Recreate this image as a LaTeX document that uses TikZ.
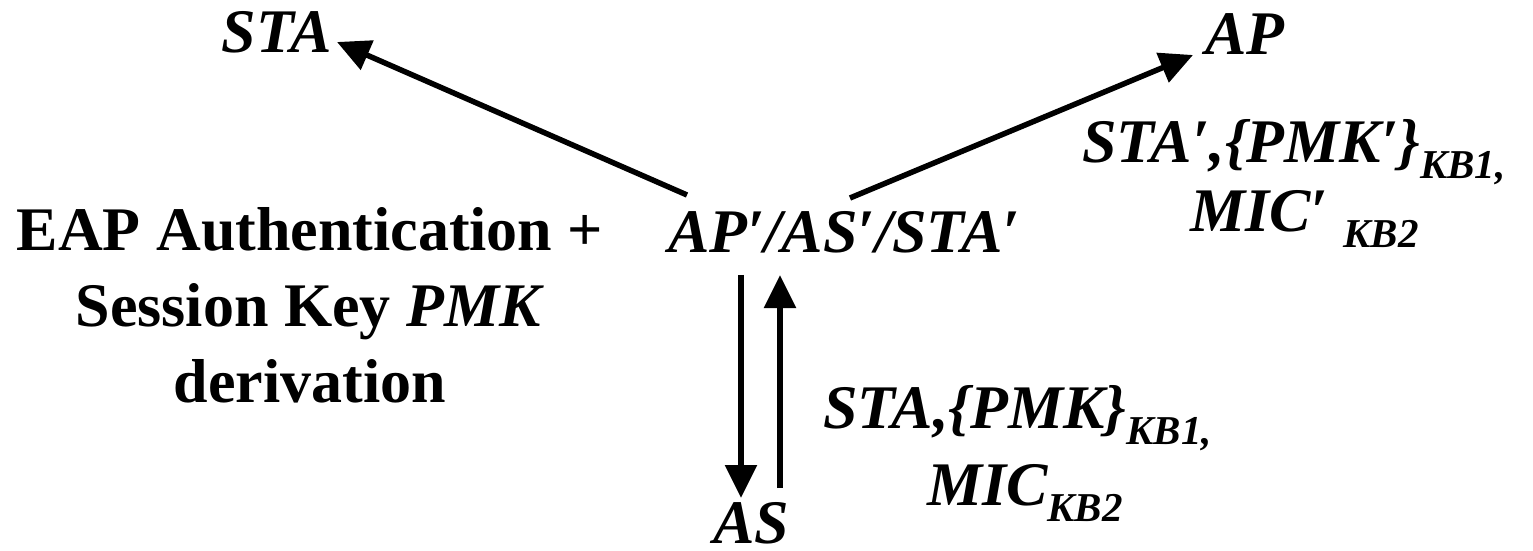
\documentclass[tikz,border=0pt]{standalone}
\usepackage{fontspec}
\setmainfont{Liberation Serif}
\usetikzlibrary{arrows.meta,calc}
% lowered, smaller subscript used in the message labels
\newcommand{\keysub}[1]{\raisebox{-16bp}{\fontsize{41bp}{41bp}\selectfont #1}}
\begin{document}
\begin{tikzpicture}[x=1bp,y=-1bp,
  every node/.style={inner sep=0pt,outer sep=0pt},
  entity/.style={font=\fontsize{62bp}{70bp}\selectfont\bfseries\itshape},
  note/.style={font=\fontsize{62bp}{76bp}\selectfont\bfseries,align=center},
  msg/.style={font=\fontsize{62bp}{70bp}\selectfont\bfseries\itshape},
  flow/.style={line width=5.5bp,-{Triangle[length=33bp,width=31bp]}}]
\useasboundingbox (0,0) rectangle (1533,551);

% parties
\node[entity,anchor=base east] (sta) at (332,53) {STA};
\node[entity,anchor=base west] (ap) at (1205,55) {AP};
\node[entity,anchor=base west] (hub) at (668,253) {AP′/AS′/STA′};
\node[entity,anchor=base west] (as) at (713,543) {AS};

% explanatory note on the left (base = baseline of its last line)
\node[note,anchor=base] (eap) at (310,402)
  {EAP Authentication +\\Session Key \textit{PMK}\\derivation};

% message contents
\node[msg,anchor=base west] (m1a) at (823,428) {STA,\{PMK\}\keysub{KB1,}};
\node[msg,anchor=base west] (m1b) at (927,505) {MIC\keysub{KB2}};
\node[msg,anchor=base west] (m2a) at (1082,163) {STA′,\{PMK′\}\keysub{KB1,}};
\node[msg,anchor=base west] (m2b) at (1190,232) {MIC′ \keysub{KB2}};

% connectors
\draw[flow] ($(hub.base west)+(19,-58)$) -- ($(sta.base east)+(5,-11)$);
\draw[flow] ($(hub.base west)+(182,-55)$) -- ($(ap.base west)+(-12,0)$);
\draw[flow] ($(hub.base west)+(73,22)$) -- ($(as.base west)+(28,-45)$);
\draw[flow] ($(as.base west)+(67,-55)$) -- ($(hub.base west)+(112,22)$);
\end{tikzpicture}
\end{document}
